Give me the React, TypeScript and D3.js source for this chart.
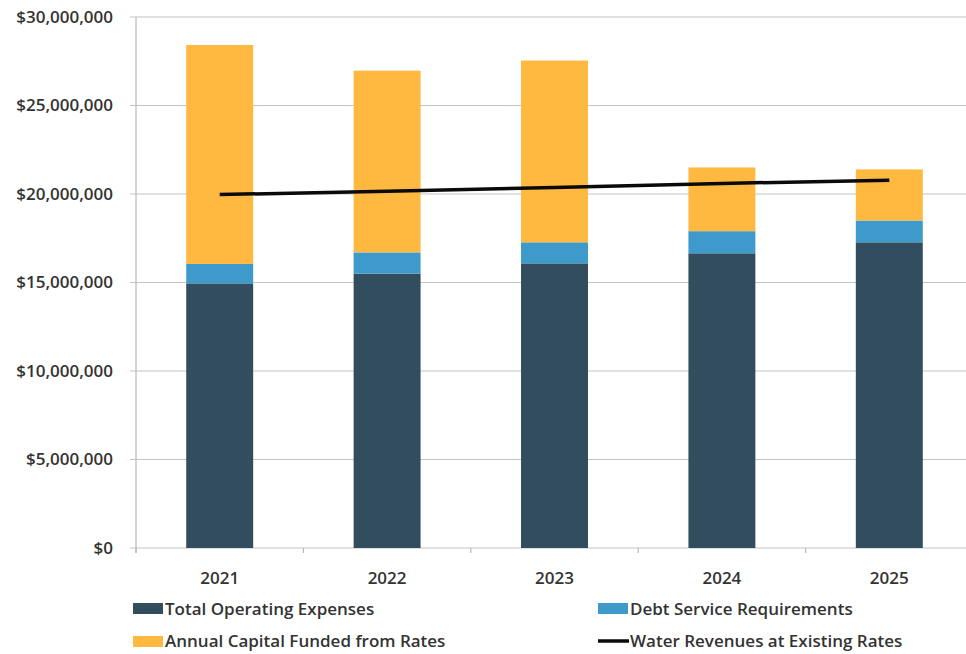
import React from "react";
import * as d3 from "d3";

const years = ["2021", "2022", "2023", "2024", "2025"];
const operating = [14.95, 15.5, 16.08, 16.65, 17.27];
const debt = [1.1, 1.2, 1.19, 1.25, 1.23];
const capital = [12.37, 10.27, 10.27, 3.6, 2.89];
const revenues = [19.97, 20.15, 20.37, 20.6, 20.77];
const yTicks = [0, 5, 10, 15, 20, 25, 30];

const W = 966;
const H = 654;
const left = 136;
const top = 17;
const bottom = 548;

const colors = {
  operating: "#324d5e",
  debt: "#3d9acb",
  capital: "#ffb840",
  line: "#0a0a0a",
};

export default function App() {
  const x = d3
    .scaleBand<string>()
    .domain(years)
    .range([left, left + 5 * 167.4])
    .paddingInner(0.6)
    .paddingOuter(0.3);
  const y = d3.scaleLinear().domain([0, 30]).range([bottom, top]);
  const fmt = (v: number) => "$" + d3.format(",")(v * 1000000);
  const font = "'Open Sans', sans-serif";

  const stacks = years.map((yr, i) => {
    const a = operating[i];
    const b = a + debt[i];
    const c = b + capital[i];
    return { yr, segs: [
      { y0: 0, y1: a, c: colors.operating },
      { y0: a, y1: b, c: colors.debt },
      { y0: b, y1: c, c: colors.capital },
    ] };
  });

  const line = d3
    .line<number>()
    .x((_, i) => (x(years[i]) as number) + x.bandwidth() / 2)
    .y((d) => y(d));

  const boundaries = d3.range(years.length + 1).map((i) => left + i * x.step());

  return (
    <svg
      width={W}
      height={H}
      style={{ position: "absolute", left: 0, top: 0, background: "#fff" }}
      fontFamily={font}
    >
      {yTicks.map((t) => (
        <g key={t}>
          <line x1={left - 6} x2={W} y1={y(t)} y2={y(t)} stroke="#c4c4c4" strokeWidth={1.2} />
          <text
            x={113}
            y={y(t)}
            dy="0.35em"
            textAnchor="end"
            fontSize={17}
            fontWeight={600}
            fill="#333"
          >
            {fmt(t)}
          </text>
        </g>
      ))}
      <line x1={left} x2={left} y1={top} y2={bottom + 5} stroke="#b8b8b8" strokeWidth={1.2} />
      {boundaries.map((b, i) => (
        <line key={i} x1={b} x2={b} y1={bottom} y2={bottom + 5} stroke="#b8b8b8" strokeWidth={1.2} />
      ))}
      {stacks.map((s) =>
        s.segs.map((g, j) => (
          <rect
            key={s.yr + j}
            x={x(s.yr)}
            width={x.bandwidth()}
            y={y(g.y1)}
            height={y(g.y0) - y(g.y1)}
            fill={g.c}
          />
        ))
      )}
      <path d={line(revenues) || ""} fill="none" stroke={colors.line} strokeWidth={3.5} />
      {years.map((yr) => (
        <text
          key={yr}
          x={(x(yr) as number) + x.bandwidth() / 2}
          y={578}
          dy="0.35em"
          textAnchor="middle"
          fontSize={17}
          fontWeight={600}
          fill="#333"
        >
          {yr}
        </text>
      ))}
      <g fontSize={17} fontWeight={600} fill="#333">
        <rect x={133} y={603} width={30} height={11} fill={colors.operating} />
        <text x={165} y={609} dy="0.35em">Total Operating Expenses</text>
        <rect x={598} y={603} width={30} height={11} fill={colors.debt} />
        <text x={630} y={609} dy="0.35em">Debt Service Requirements</text>
        <rect x={133} y={636} width={30} height={11} fill={colors.capital} />
        <text x={165} y={641} dy="0.35em">Annual Capital Funded from Rates</text>
        <line x1={598} x2={629} y1={641} y2={641} stroke={colors.line} strokeWidth={3.5} />
        <text x={630} y={641} dy="0.35em">Water Revenues at Existing Rates</text>
      </g>
    </svg>
  );
}
